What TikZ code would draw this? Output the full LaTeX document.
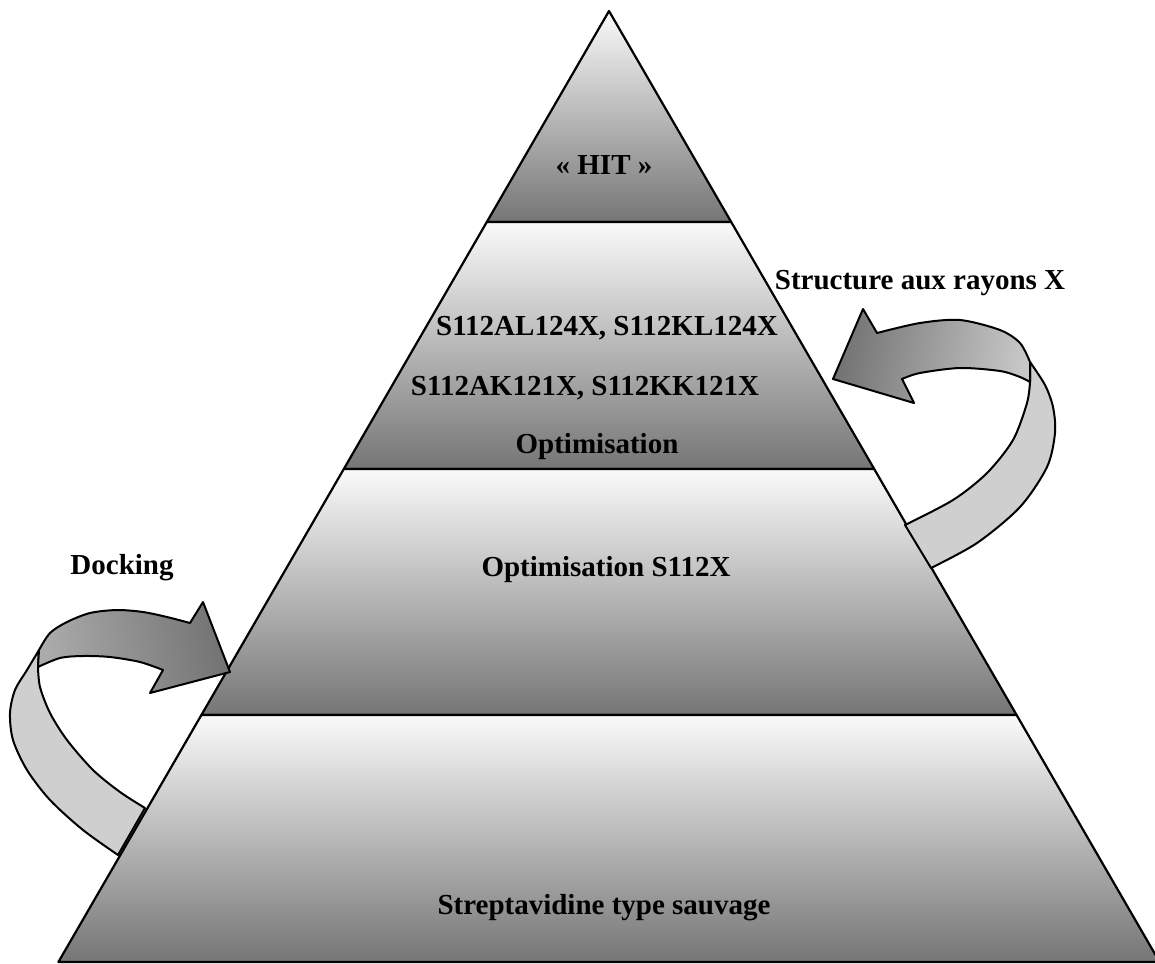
\documentclass[tikz,border=0pt]{standalone}
\usepackage{fontspec}
\setmainfont{Liberation Serif}
\begin{document}
\begin{tikzpicture}[x=0.5pt,y=-0.5pt, line join=round,
  tier/.style={draw=black, line width=1.1pt, top color=white!98!black, bottom color=black!54},
  band/.style={draw=black, line width=1pt},
  ribbon/.style={draw=black, line width=1pt, fill=black!19},
  lbl/.style={font=\bfseries\fontsize{14.5}{17}\selectfont, inner sep=0pt, anchor=base}]
\useasboundingbox (0,0) rectangle (1155,963);
% pyramid corners
\coordinate (A)  at (609,11);
\coordinate (L1) at (486.8,222);  \coordinate (R1) at (731.2,222);
\coordinate (L2) at (343.8,469);  \coordinate (R2) at (874.2,469);
\coordinate (L3) at (201.4,715);  \coordinate (R3) at (1016.6,715);
\coordinate (L4) at (58.4,962);   \coordinate (R4) at (1159.6,962);
% tiers
\path[tier] (A) -- (R1) -- (L1) -- cycle;
\path[tier] (L1) -- (R1) -- (R2) -- (L2) -- cycle;
\path[tier] (L2) -- (R2) -- (R3) -- (L3) -- cycle;
\path[tier] (L3) -- (R3) -- (R4) -- (L4) -- cycle;
% left arrow (Docking)
\path[ribbon] plot[smooth] coordinates {(39,650) (27,670) (15,690) (10,713) (13,740) (27,770) (50,800) (83,830) (118,855)}
  -- plot[smooth] coordinates {(145,808) (120,792) (93,770) (67,740) (50,713) (40,687) (38,667)} -- cycle;
\path[band, left color=black!33, right color=black!55, shading angle=100]
  plot[smooth] coordinates {(39,650) (50,633) (67,622) (90,613) (117,610) (143,612) (167,617) (190,623)}
  -- (203,602) -- (230,672) -- (150,693)
  -- plot[smooth] coordinates {(163,670) (140,662) (110,657) (83,656) (60,658) (38,667)} -- cycle;
% right arrow (Structure aux rayons X)
\path[ribbon] plot[smooth] coordinates {(1030,362) (1045,385) (1053,407) (1055,433) (1047,467) (1020,507) (977,543) (931,568)}
  -- plot[smooth] coordinates {(905,525) (953,500) (987,473) (1013,440) (1027,403) (1030,382)} -- cycle;
\path[band, left color=black!55, right color=black!22, shading angle=80]
  plot[smooth] coordinates {(1030,362) (1020,343) (1000,330) (960,320) (920,323) (877,333)}
  -- (863,309) -- (833,379) -- (914,403)
  -- plot[smooth] coordinates {(902,379) (920,373) (960,368) (1000,371) (1020,377) (1030,382)} -- cycle;
% texts
\node[lbl] (hit) at (604,174) {« HIT »};
\node[lbl] (l1) at (607,335) {S112AL124X, S112KL124X};
\node[lbl] (l2) at (585,395) {S112AK121X, S112KK121X};
\node[lbl] (l3) at (597,453) {Optimisation};
\node[lbl] (opt) at (606,576) {Optimisation S112X};
\node[lbl] (wt) at (604,914) {Streptavidine type sauvage};
\node[lbl] (dock) at (122,574) {Docking};
\node[lbl] (xray) at (920,289) {Structure aux rayons X};
\end{tikzpicture}
\end{document}
